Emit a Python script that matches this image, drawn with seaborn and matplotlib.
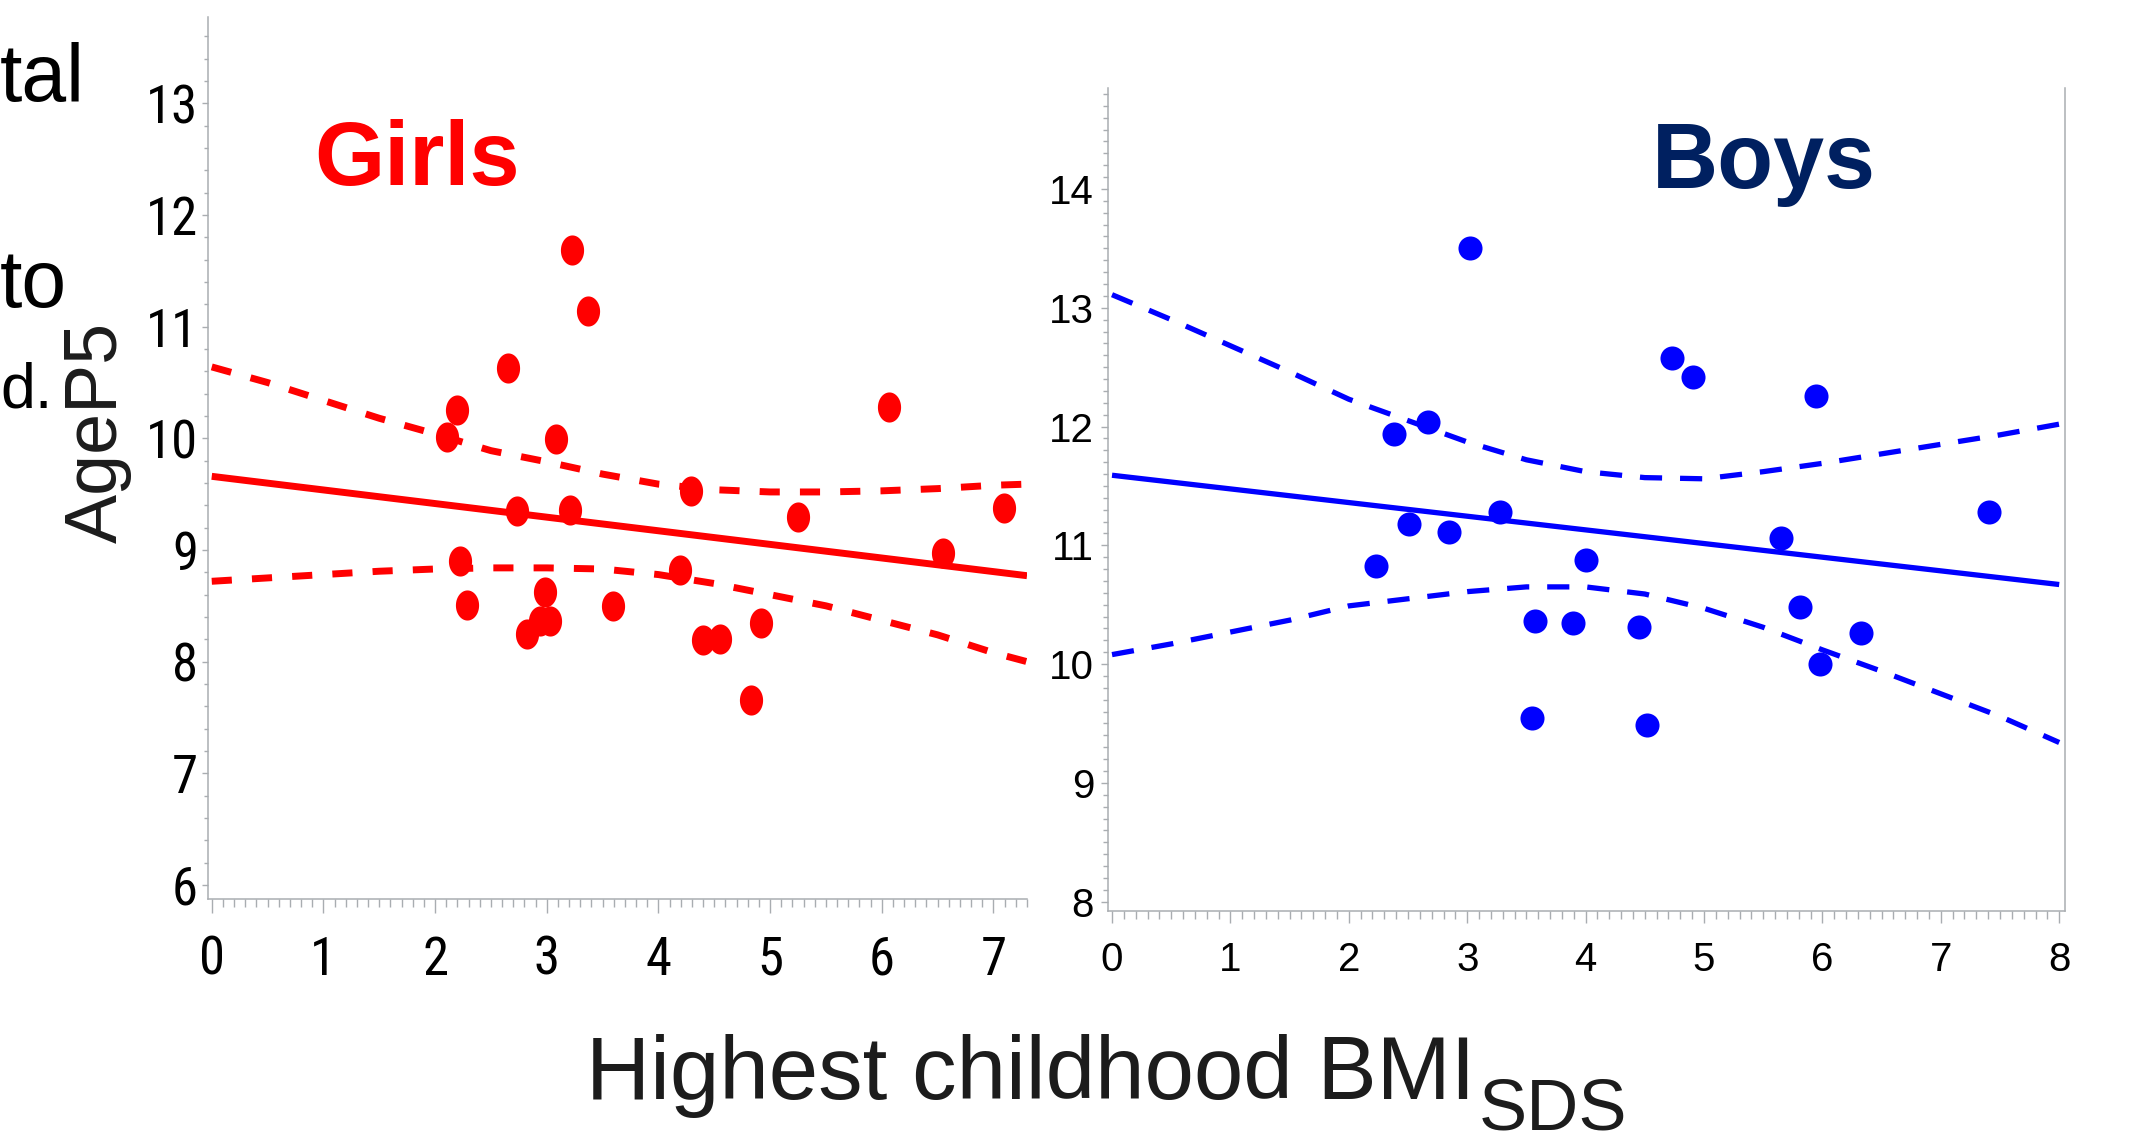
import os
import numpy as np
import pandas as pd
import matplotlib
matplotlib.use("Agg")
import matplotlib.pyplot as plt
import seaborn as sns
from matplotlib import font_manager
from matplotlib.font_manager import FontProperties
from matplotlib.path import Path
from matplotlib.ticker import MultipleLocator

# -----------------------
# Data
# -----------------------

# Girls: highest childhood BMI SDS vs AgeP5
girls_bmi = [2.11, 2.20, 2.65, 3.23, 3.37, 3.08, 2.73, 3.21, 2.22, 2.29, 2.82, 2.98, 2.94,
             3.03, 3.59, 4.29, 4.19, 4.40, 4.55, 4.83, 4.92, 5.25, 6.06, 6.55, 7.09]
girls_age = [10.01, 10.25, 10.63, 11.69, 11.14, 9.99, 9.35, 9.36, 8.90, 8.51, 8.25, 8.62, 8.36,
             8.36, 8.50, 9.53, 8.82, 8.19, 8.20, 7.66, 8.35, 9.30, 10.28, 8.97, 9.38]

# Girls fitted line and confidence limits
girls_fit_x = [0.0, 7.3]
girls_fit_y = [9.66, 8.77]
girls_ci_x = [0.0, 0.5, 1.0, 1.5, 2.0, 2.5, 3.0, 3.5, 4.0, 4.5, 5.0, 5.5, 6.0, 6.5, 7.0, 7.3]
girls_upper = [10.64, 10.50, 10.34, 10.18, 10.04, 9.89, 9.79, 9.68, 9.59, 9.54, 9.52, 9.52,
               9.53, 9.55, 9.58, 9.59]
girls_lower = [8.72, 8.75, 8.78, 8.81, 8.83, 8.84, 8.84, 8.83, 8.78, 8.70, 8.60, 8.50,
               8.37, 8.24, 8.08, 8.00]

# Boys
boys_bmi = [2.23, 2.38, 2.51, 2.67, 2.85, 3.02, 3.28, 3.57, 3.55, 3.89, 4.00, 4.45, 4.52,
            4.73, 4.91, 5.65, 5.81, 5.95, 5.98, 6.33, 7.41]
boys_age = [10.83, 11.94, 11.18, 12.04, 11.11, 13.50, 11.28, 10.36, 9.55, 10.35, 10.88, 10.31,
            9.49, 12.58, 12.42, 11.06, 10.48, 12.26, 10.00, 10.26, 11.28]

boys_fit_x = [0.0, 8.0]
boys_fit_y = [11.59, 10.67]
boys_ci_x = [0.0, 0.5, 1.0, 1.5, 2.0, 2.5, 3.0, 3.5, 4.0, 4.5, 5.0, 5.5, 6.0, 6.5, 7.0, 7.5, 8.0]
boys_upper = [13.11, 12.90, 12.68, 12.46, 12.23, 12.05, 11.87, 11.72, 11.62, 11.57, 11.56,
              11.62, 11.69, 11.77, 11.85, 11.93, 12.02]
boys_lower = [10.08, 10.17, 10.27, 10.37, 10.49, 10.55, 10.61, 10.65, 10.65, 10.59, 10.47,
              10.31, 10.12, 9.94, 9.75, 9.56, 9.34]

# -----------------------
# Style
# -----------------------

W, H = 2135, 1145
sns.set_theme(style="white")
plt.rcParams["font.family"] = ["Liberation Sans", "DejaVu Sans"]
AXIS_GRAY = "#a9adb1"
TEXT_DARK = "#1c1c1c"

RED = "#ff0000"
BLUE = "#0000ff"
NAVY = "#002060"


def find_condensed_font():
    """Look for a narrow sans font file (the left panel uses condensed digits)."""
    prefs = ["liberationsansnarrow-regular", "robotocondensed-regular",
             "dejavusanscondensed.ttf", "opensans_condensed-regular",
             "opensans-condensedregular"]
    files = [f.fname for f in font_manager.fontManager.ttflist]
    for p in prefs:
        for f in files:
            if p in os.path.basename(f).lower():
                return f
    return None


narrow_file = find_condensed_font()
if narrow_file:
    left_tick_font = FontProperties(fname=narrow_file, size=38)
else:
    left_tick_font = FontProperties(family="Liberation Sans", size=31)
right_tick_font = FontProperties(family="Liberation Sans", size=29)


def px(x, y):
    """Pixel position (from top-left) to figure fraction."""
    return x / W, 1 - y / H


def style_axes(ax, right_spine, font):
    for side in ["top", "right", "left", "bottom"]:
        ax.spines[side].set_color(AXIS_GRAY)
        ax.spines[side].set_linewidth(1.1)
    ax.spines["top"].set_visible(False)
    ax.spines["right"].set_visible(right_spine)
    ax.set_xlabel("")
    ax.set_ylabel("")
    ax.grid(False)
    for lab in ax.get_xticklabels() + ax.get_yticklabels():
        lab.set_fontproperties(font)
        lab.set_color("black")


fig = plt.figure(figsize=(W / 100, H / 100), dpi=100)
fig.patch.set_facecolor("white")

# -----------------------
# Girls panel
# -----------------------
ax1 = fig.add_axes([207.5 / W, 1 - 898.7 / H, (1027 - 207.5) / W, (898.7 - 17) / H])

theta = np.linspace(0, 2 * np.pi, 64)
ellipse = Path(np.column_stack([0.77 * np.cos(theta), np.sin(theta)]), closed=True)

girls = pd.DataFrame({"bmi": girls_bmi, "age": girls_age})
sns.scatterplot(data=girls, x="bmi", y="age", ax=ax1, color=RED, marker=ellipse,
                s=470, linewidth=0, zorder=3)
sns.lineplot(x=girls_fit_x, y=girls_fit_y, ax=ax1, color=RED, lw=5.0,
             solid_capstyle="butt", zorder=2)
for band in (girls_upper, girls_lower):
    sns.lineplot(x=girls_ci_x, y=band, ax=ax1, color=RED, lw=5.0,
                 linestyle=(0, (2.9, 2.9)), dash_capstyle="butt", zorder=2)

ax1.set_xlim(-0.038, 7.30)
ax1.set_ylim(5.877, 13.774)
ax1.set_xticks(range(0, 8))
ax1.set_yticks(range(6, 14))
ax1.xaxis.set_minor_locator(MultipleLocator(0.1))
ax1.yaxis.set_minor_locator(MultipleLocator(0.2))
ax1.tick_params(axis="x", which="major", direction="out", length=10, width=1,
                color=AXIS_GRAY, pad=16, bottom=True)
ax1.tick_params(axis="x", which="minor", direction="out", length=6, width=1,
                color=AXIS_GRAY, bottom=True)
ax1.tick_params(axis="y", which="major", direction="out", length=4.3, width=1,
                color=AXIS_GRAY, pad=2.5, left=True)
ax1.tick_params(axis="y", which="minor", direction="out", length=3, width=1,
                color=AXIS_GRAY, left=True)
style_axes(ax1, False, left_tick_font)

# -----------------------
# Boys panel
# -----------------------
ax2 = fig.add_axes([1108 / W, 1 - 910.7 / H, (2065 - 1108) / W, (910.7 - 88) / H])

boys = pd.DataFrame({"bmi": boys_bmi, "age": boys_age})
sns.scatterplot(data=boys, x="bmi", y="age", ax=ax2, color=BLUE, marker="o",
                s=300, linewidth=0, zorder=3)
sns.lineplot(x=boys_fit_x, y=boys_fit_y, ax=ax2, color=BLUE, lw=3.8,
             solid_capstyle="butt", zorder=2)
for band in (boys_upper, boys_lower):
    sns.lineplot(x=boys_ci_x, y=band, ax=ax2, color=BLUE, lw=3.8,
                 linestyle=(0, (4.2, 3.4)), dash_capstyle="butt", zorder=2)

ax2.set_xlim(-0.034, 8.049)
ax2.set_ylim(7.924, 14.85)
ax2.set_xticks(range(0, 9))
ax2.set_yticks(range(8, 15))
ax2.xaxis.set_minor_locator(MultipleLocator(0.1))
ax2.yaxis.set_minor_locator(MultipleLocator(0.1))
ax2.tick_params(axis="x", which="major", direction="out", length=8.5, width=1,
                color=AXIS_GRAY, pad=13, bottom=True)
ax2.tick_params(axis="x", which="minor", direction="out", length=5.5, width=1,
                color=AXIS_GRAY, bottom=True)
ax2.tick_params(axis="y", which="major", direction="out", length=5, width=1,
                color=AXIS_GRAY, pad=5, left=True)
ax2.tick_params(axis="y", which="minor", direction="out", length=3.5, width=1,
                color=AXIS_GRAY, left=True)
style_axes(ax2, True, right_tick_font)

# -----------------------
# Labels and titles
# -----------------------
fig.text(*px(314, 185), "Girls", color=RED, fontsize=65, fontweight="bold",
         ha="left", va="baseline")
fig.text(*px(1652, 188), "Boys", color=NAVY, fontsize=66, fontweight="bold",
         ha="left", va="baseline")

fig.text(*px(97, 432), "AgeP5", color=TEXT_DARK, fontsize=53, rotation=90,
         ha="center", va="center")

xlab = fig.text(*px(586, 1099), "Highest childhood BMI", color=TEXT_DARK, fontsize=64,
                ha="left", va="baseline")
ax2.annotate("SDS", xy=(1, 0), xycoords=xlab, xytext=(3, -12), textcoords="offset pixels",
             color=TEXT_DARK, fontsize=52, ha="left", va="baseline",
             annotation_clip=False)

# slide text fragments at the left edge
fig.text(*px(0, 101), "tal", color="black", fontsize=58, ha="left", va="baseline")
fig.text(*px(0, 307), "to", color="black", fontsize=58, ha="left", va="baseline")
fig.text(*px(0, 408), "d.", color="black", fontsize=45, ha="left", va="baseline")

fig.savefig("out.png", dpi=100, facecolor="white")
